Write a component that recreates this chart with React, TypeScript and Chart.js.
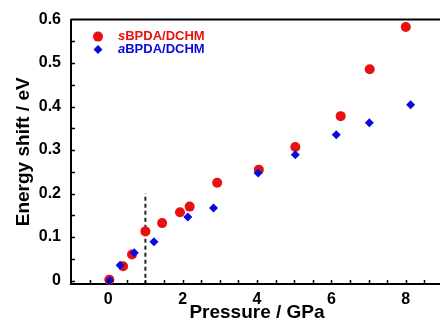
import React, { useEffect, useRef } from "react";
import { Chart, registerables } from "chart.js";
Chart.register(...registerables);

const sPressure = [0.03, 0.4, 0.64, 1.0, 1.45, 1.93, 2.19, 2.93, 4.05, 5.03, 6.25, 7.03, 8.0];
const sShift = [0.002, 0.033, 0.06, 0.113, 0.132, 0.157, 0.17, 0.225, 0.255, 0.307, 0.378, 0.486, 0.583];
const aPressure = [0.04, 0.32, 0.7, 1.23, 2.14, 2.83, 4.03, 5.03, 6.13, 7.02, 8.13];
const aShift = [0.0, 0.035, 0.064, 0.089, 0.146, 0.167, 0.247, 0.289, 0.335, 0.363, 0.404];
const xTickLabels = [0, 2, 4, 6, 8];
const yTickLabels = [0, 0.1, 0.2, 0.3, 0.4, 0.5, 0.6];
const seriesNames = ["sBPDA/DCHM", "aBPDA/DCHM"];
const dividerPressure = 1;
const dividerTop = 0.2;

const RED = "#e81010";
const BLUE = "#0a0ae0";
const FONT = "'Liberation Sans', Arial, sans-serif";

const decorPlugin = {
  id: "decor",
  afterDraw(chart: any) {
    const { ctx, chartArea } = chart;
    const xs = chart.scales.x;
    const ys = chart.scales.y;
    ctx.save();
    // top border
    ctx.strokeStyle = "#000";
    ctx.lineWidth = 2;
    ctx.beginPath();
    ctx.moveTo(chartArea.left, chartArea.top);
    ctx.lineTo(chartArea.right, chartArea.top);
    ctx.stroke();
    // inward ticks
    ctx.lineWidth = 1.5;
    ctx.beginPath();
    for (let i = -1; i <= 17; i++) {
      const px = Math.round(xs.getPixelForValue(i * 0.5)) + 0.5;
      ctx.moveTo(px, chartArea.bottom);
      ctx.lineTo(px, chartArea.bottom - 4);
    }
    for (let i = 0; i <= 11; i++) {
      const py = Math.round(ys.getPixelForValue(i * 0.05)) + 0.5;
      ctx.moveTo(chartArea.left, py);
      ctx.lineTo(chartArea.left + 4, py);
    }
    ctx.stroke();
    // legend
    const lx = chartArea.left + 27;
    const items = [
      { color: RED, text: seriesNames[0], y: chartArea.top + 17, shape: "circle" },
      { color: BLUE, text: seriesNames[1], y: chartArea.top + 30, shape: "diamond" },
    ];
    for (const it of items) {
      ctx.fillStyle = it.color;
      ctx.beginPath();
      if (it.shape === "circle") {
        ctx.arc(lx, it.y, 5, 0, Math.PI * 2);
      } else {
        ctx.moveTo(lx, it.y - 4.5);
        ctx.lineTo(lx + 4.5, it.y);
        ctx.lineTo(lx, it.y + 4.5);
        ctx.lineTo(lx - 4.5, it.y);
        ctx.closePath();
      }
      ctx.fill();
      ctx.textBaseline = "middle";
      ctx.textAlign = "left";
      let tx = lx + 20;
      ctx.font = `italic bold 13px ${FONT}`;
      const first = it.text.charAt(0);
      ctx.fillText(first, tx, it.y);
      tx += ctx.measureText(first).width;
      ctx.font = `bold 13px ${FONT}`;
      ctx.fillText(it.text.slice(1), tx, it.y);
    }
    ctx.restore();
  },
};

export default function App() {
  const ref = useRef<HTMLCanvasElement | null>(null);
  useEffect(() => {
    if (!ref.current) return;
    const chart = new Chart(ref.current, {
      type: "scatter",
      data: {
        datasets: [
          {
            label: seriesNames[0],
            data: sPressure.map((x, i) => ({ x, y: sShift[i] })),
            backgroundColor: RED,
            borderColor: RED,
            pointRadius: 5,
            pointStyle: "circle",
            borderWidth: 0,
            order: 1,
            clip: false as any,
          },
          {
            label: seriesNames[1],
            data: aPressure.map((x, i) => ({ x, y: aShift[i] })),
            backgroundColor: BLUE,
            borderColor: BLUE,
            pointRadius: 4.5,
            pointStyle: "rectRot",
            borderWidth: 0,
            order: 0,
            clip: false as any,
          },
          {
            type: "line" as any,
            label: "divider",
            data: [
              { x: dividerPressure, y: -0.01 },
              { x: dividerPressure, y: dividerTop },
            ],
            borderColor: "#222",
            borderWidth: 2,
            borderDash: [4, 3],
            pointRadius: 0,
            showLine: true,
            order: 2,
          } as any,
        ],
      },
      options: {
        animation: false,
        responsive: true,
        maintainAspectRatio: false,
        layout: { padding: { top: 14, left: 0, right: 0, bottom: 0 } },
        plugins: { legend: { display: false }, tooltip: { enabled: false } },
        scales: {
          x: {
            type: "linear",
            min: -1,
            max: 9,
            afterFit: (s: any) => {
              s.height = 36;
            },
            afterBuildTicks: (s: any) => {
              s.ticks = xTickLabels.map((v) => ({ value: v }));
            },
            grid: { display: false, drawTicks: false },
            border: { display: true, color: "#000", width: 2 },
            ticks: {
              padding: 6,
              color: "#000",
              font: { family: FONT, size: 16, weight: "bold" },
              callback: (v: any) => String(v),
            },
            title: {
              display: true,
              text: "Pressure / GPa",
              color: "#000",
              font: { family: FONT, size: 19, weight: "bold" },
              padding: { top: 0, bottom: -4 },
            },
          },
          y: {
            type: "linear",
            min: -0.008,
            max: 0.6,
            afterFit: (s: any) => {
              s.width = 71;
            },
            afterBuildTicks: (s: any) => {
              s.ticks = yTickLabels.map((v) => ({ value: v }));
            },
            grid: { display: false, drawTicks: false },
            border: { display: true, color: "#000", width: 2 },
            ticks: {
              padding: 10,
              color: "#000",
              font: { family: FONT, size: 16, weight: "bold" },
              callback: (v: any) => String(v),
            },
            title: {
              display: true,
              text: "Energy shift / eV",
              color: "#000",
              font: { family: FONT, size: 19, weight: "bold" },
              padding: { top: 12, bottom: 0 },
            },
          },
        },
      },
      plugins: [decorPlugin],
    });
    return () => chart.destroy();
  }, []);
  return (
    <div style={{ position: "fixed", left: 0, top: 0, width: 448, height: 320, background: "#fff" }}>
      <canvas ref={ref} />
    </div>
  );
}
